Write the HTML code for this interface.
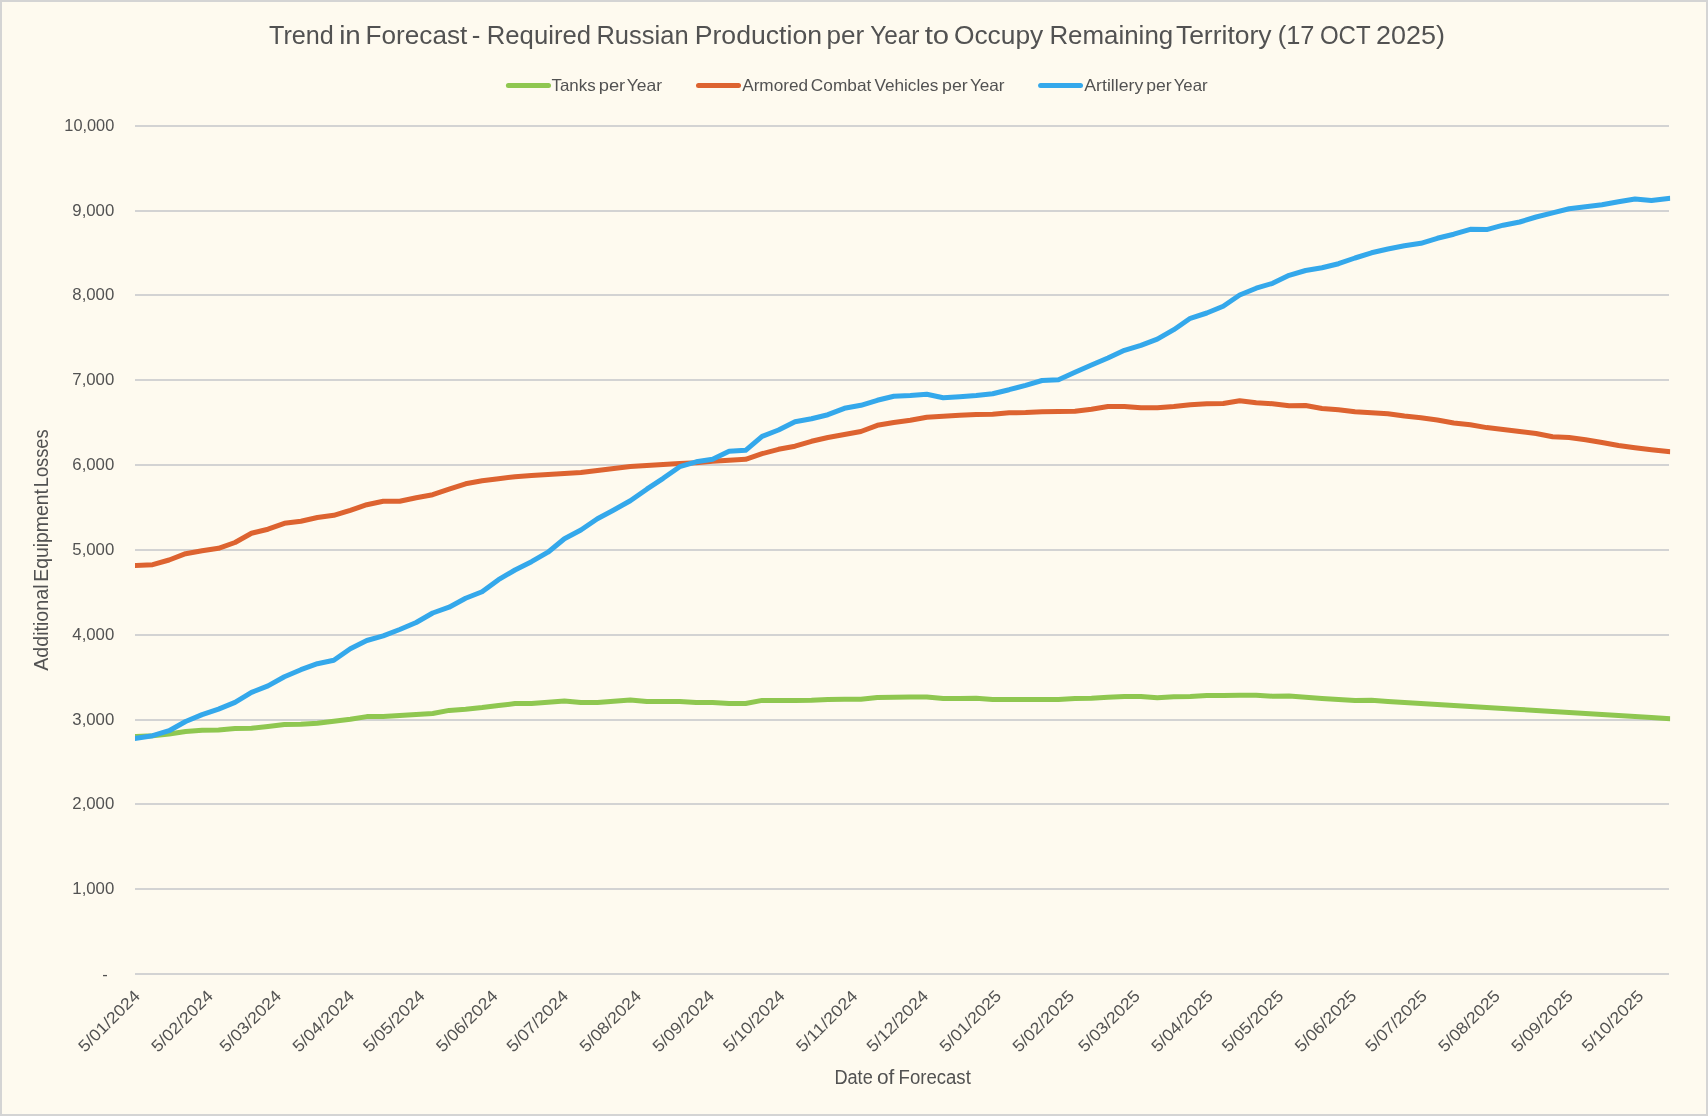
<!DOCTYPE html>
<html lang="en"><head><meta charset="utf-8"><title>Trend in Forecast</title>
<style>
html,body{margin:0;padding:0;background:#FEFAEF;}
body{width:1708px;height:1116px;overflow:hidden;font-family:"Liberation Sans",sans-serif;}
svg{display:block;position:absolute;left:0;top:0;will-change:transform;}
text{font-family:"Liberation Sans",sans-serif;fill:#525252;}
.t{font-size:26px;}
.l{font-size:16.5px;}
.a{font-size:19.5px;}
.s{fill:none;stroke-width:5;stroke-linejoin:round;stroke-linecap:square;}
</style></head><body>
<svg width="1708" height="1116" viewBox="0 0 1708 1116">
<rect x="0" y="0" width="1708" height="1116" fill="#D4D4D4"/>
<rect x="2" y="2" width="1704" height="1112" fill="#FEFAEF"/>
<g stroke="#D3D3D3" stroke-width="2">
<line x1="135.0" x2="1669.0" y1="974" y2="974"/>
<line x1="135.0" x2="1669.0" y1="889" y2="889"/>
<line x1="135.0" x2="1669.0" y1="804" y2="804"/>
<line x1="135.0" x2="1669.0" y1="720" y2="720"/>
<line x1="135.0" x2="1669.0" y1="635" y2="635"/>
<line x1="135.0" x2="1669.0" y1="550" y2="550"/>
<line x1="135.0" x2="1669.0" y1="465" y2="465"/>
<line x1="135.0" x2="1669.0" y1="380" y2="380"/>
<line x1="135.0" x2="1669.0" y1="295" y2="295"/>
<line x1="135.0" x2="1669.0" y1="211" y2="211"/>
<line x1="135.0" x2="1669.0" y1="126" y2="126"/>
</g>
<text class="t" x="269.0" y="44.1" textLength="64.9" lengthAdjust="spacingAndGlyphs">Trend</text>
<text class="t" x="339.2" y="44.1" textLength="21.6" lengthAdjust="spacingAndGlyphs">in</text>
<text class="t" x="365.6" y="44.1" textLength="101.7" lengthAdjust="spacingAndGlyphs">Forecast</text>
<text class="t" x="471.7" y="44.1" textLength="8.6" lengthAdjust="spacingAndGlyphs">-</text>
<text class="t" x="486.8" y="44.1" textLength="104.2" lengthAdjust="spacingAndGlyphs">Required</text>
<text class="t" x="596.4" y="44.1" textLength="92.2" lengthAdjust="spacingAndGlyphs">Russian</text>
<text class="t" x="694.7" y="44.1" textLength="127.4" lengthAdjust="spacingAndGlyphs">Production</text>
<text class="t" x="826.5" y="44.1" textLength="37.6" lengthAdjust="spacingAndGlyphs">per</text>
<text class="t" x="870.2" y="44.1" textLength="49.1" lengthAdjust="spacingAndGlyphs">Year</text>
<text class="t" x="924.7" y="44.1" textLength="24.4" lengthAdjust="spacingAndGlyphs">to</text>
<text class="t" x="953.9" y="44.1" textLength="89.4" lengthAdjust="spacingAndGlyphs">Occupy</text>
<text class="t" x="1049.4" y="44.1" textLength="123.8" lengthAdjust="spacingAndGlyphs">Remaining</text>
<text class="t" x="1175.9" y="44.1" textLength="95.7" lengthAdjust="spacingAndGlyphs">Territory</text>
<text class="t" x="1277.7" y="44.1" textLength="36.7" lengthAdjust="spacingAndGlyphs">(17</text>
<text class="t" x="1319.9" y="44.1" textLength="50.7" lengthAdjust="spacingAndGlyphs">OCT</text>
<text class="t" x="1376.1" y="44.1" textLength="69.0" lengthAdjust="spacingAndGlyphs">2025)</text>
<g class="s" stroke-linecap="round" style="stroke-linecap:round">
<line x1="508.4" x2="548.5" y1="85.5" y2="85.5" stroke="#8FC750"/>
<line x1="698.5" x2="738.5" y1="85.5" y2="85.5" stroke="#DD6330"/>
<line x1="1040.6" x2="1080.5" y1="85.5" y2="85.5" stroke="#34A8EB"/>
</g>
<text class="l" x="551.5" y="90.8" textLength="44.2" lengthAdjust="spacingAndGlyphs">Tanks</text>
<text class="l" x="598.7" y="90.8" textLength="26.5" lengthAdjust="spacingAndGlyphs">per</text>
<text class="l" x="626.7" y="90.8" textLength="35.4" lengthAdjust="spacingAndGlyphs">Year</text>
<text class="l" x="742.2" y="90.8" textLength="65.9" lengthAdjust="spacingAndGlyphs">Armored</text>
<text class="l" x="810.8" y="90.8" textLength="60.5" lengthAdjust="spacingAndGlyphs">Combat</text>
<text class="l" x="874.4" y="90.8" textLength="64.0" lengthAdjust="spacingAndGlyphs">Vehicles</text>
<text class="l" x="942.0" y="90.8" textLength="25.7" lengthAdjust="spacingAndGlyphs">per</text>
<text class="l" x="969.9" y="90.8" textLength="34.7" lengthAdjust="spacingAndGlyphs">Year</text>
<text class="l" x="1084.3" y="90.8" textLength="59.0" lengthAdjust="spacingAndGlyphs">Artillery</text>
<text class="l" x="1146.3" y="90.8" textLength="25.4" lengthAdjust="spacingAndGlyphs">per</text>
<text class="l" x="1173.7" y="90.8" textLength="33.9" lengthAdjust="spacingAndGlyphs">Year</text>
<text class="l" x="114.3" y="893.9" text-anchor="end" textLength="42.0" lengthAdjust="spacingAndGlyphs">1,000</text>
<text class="l" x="114.3" y="808.9" text-anchor="end" textLength="42.0" lengthAdjust="spacingAndGlyphs">2,000</text>
<text class="l" x="114.3" y="724.9" text-anchor="end" textLength="42.0" lengthAdjust="spacingAndGlyphs">3,000</text>
<text class="l" x="114.3" y="639.9" text-anchor="end" textLength="42.0" lengthAdjust="spacingAndGlyphs">4,000</text>
<text class="l" x="114.3" y="554.9" text-anchor="end" textLength="42.0" lengthAdjust="spacingAndGlyphs">5,000</text>
<text class="l" x="114.3" y="469.9" text-anchor="end" textLength="42.0" lengthAdjust="spacingAndGlyphs">6,000</text>
<text class="l" x="114.3" y="384.9" text-anchor="end" textLength="42.0" lengthAdjust="spacingAndGlyphs">7,000</text>
<text class="l" x="114.3" y="299.9" text-anchor="end" textLength="42.0" lengthAdjust="spacingAndGlyphs">8,000</text>
<text class="l" x="114.3" y="215.9" text-anchor="end" textLength="42.0" lengthAdjust="spacingAndGlyphs">9,000</text>
<text class="l" x="114.3" y="130.9" text-anchor="end" textLength="50.0" lengthAdjust="spacingAndGlyphs">10,000</text>
<text class="l" x="102.2" y="979.6">-</text>
<text class="l" transform="translate(136.9,992.9) rotate(-45)" x="0" y="5.9" text-anchor="end" textLength="79.2" lengthAdjust="spacingAndGlyphs">5/01/2024</text>
<text class="l" transform="translate(209.8,992.9) rotate(-45)" x="0" y="5.9" text-anchor="end" textLength="79.2" lengthAdjust="spacingAndGlyphs">5/02/2024</text>
<text class="l" transform="translate(278.1,992.9) rotate(-45)" x="0" y="5.9" text-anchor="end" textLength="79.2" lengthAdjust="spacingAndGlyphs">5/03/2024</text>
<text class="l" transform="translate(351.0,992.9) rotate(-45)" x="0" y="5.9" text-anchor="end" textLength="79.2" lengthAdjust="spacingAndGlyphs">5/04/2024</text>
<text class="l" transform="translate(421.6,992.9) rotate(-45)" x="0" y="5.9" text-anchor="end" textLength="79.2" lengthAdjust="spacingAndGlyphs">5/05/2024</text>
<text class="l" transform="translate(494.5,992.9) rotate(-45)" x="0" y="5.9" text-anchor="end" textLength="79.2" lengthAdjust="spacingAndGlyphs">5/06/2024</text>
<text class="l" transform="translate(565.1,992.9) rotate(-45)" x="0" y="5.9" text-anchor="end" textLength="79.2" lengthAdjust="spacingAndGlyphs">5/07/2024</text>
<text class="l" transform="translate(638.1,992.9) rotate(-45)" x="0" y="5.9" text-anchor="end" textLength="79.2" lengthAdjust="spacingAndGlyphs">5/08/2024</text>
<text class="l" transform="translate(711.0,992.9) rotate(-45)" x="0" y="5.9" text-anchor="end" textLength="79.2" lengthAdjust="spacingAndGlyphs">5/09/2024</text>
<text class="l" transform="translate(781.6,992.9) rotate(-45)" x="0" y="5.9" text-anchor="end" textLength="79.2" lengthAdjust="spacingAndGlyphs">5/10/2024</text>
<text class="l" transform="translate(854.5,992.9) rotate(-45)" x="0" y="5.9" text-anchor="end" textLength="79.2" lengthAdjust="spacingAndGlyphs">5/11/2024</text>
<text class="l" transform="translate(925.1,992.9) rotate(-45)" x="0" y="5.9" text-anchor="end" textLength="79.2" lengthAdjust="spacingAndGlyphs">5/12/2024</text>
<text class="l" transform="translate(998.0,992.9) rotate(-45)" x="0" y="5.9" text-anchor="end" textLength="79.2" lengthAdjust="spacingAndGlyphs">5/01/2025</text>
<text class="l" transform="translate(1071.0,992.9) rotate(-45)" x="0" y="5.9" text-anchor="end" textLength="79.2" lengthAdjust="spacingAndGlyphs">5/02/2025</text>
<text class="l" transform="translate(1136.9,992.9) rotate(-45)" x="0" y="5.9" text-anchor="end" textLength="79.2" lengthAdjust="spacingAndGlyphs">5/03/2025</text>
<text class="l" transform="translate(1209.8,992.9) rotate(-45)" x="0" y="5.9" text-anchor="end" textLength="79.2" lengthAdjust="spacingAndGlyphs">5/04/2025</text>
<text class="l" transform="translate(1280.4,992.9) rotate(-45)" x="0" y="5.9" text-anchor="end" textLength="79.2" lengthAdjust="spacingAndGlyphs">5/05/2025</text>
<text class="l" transform="translate(1353.3,992.9) rotate(-45)" x="0" y="5.9" text-anchor="end" textLength="79.2" lengthAdjust="spacingAndGlyphs">5/06/2025</text>
<text class="l" transform="translate(1423.9,992.9) rotate(-45)" x="0" y="5.9" text-anchor="end" textLength="79.2" lengthAdjust="spacingAndGlyphs">5/07/2025</text>
<text class="l" transform="translate(1496.9,992.9) rotate(-45)" x="0" y="5.9" text-anchor="end" textLength="79.2" lengthAdjust="spacingAndGlyphs">5/08/2025</text>
<text class="l" transform="translate(1569.8,992.9) rotate(-45)" x="0" y="5.9" text-anchor="end" textLength="79.2" lengthAdjust="spacingAndGlyphs">5/09/2025</text>
<text class="l" transform="translate(1640.4,992.9) rotate(-45)" x="0" y="5.9" text-anchor="end" textLength="79.2" lengthAdjust="spacingAndGlyphs">5/10/2025</text>
<text class="a" x="834.4" y="1083.8" textLength="38.4" lengthAdjust="spacingAndGlyphs">Date</text>
<text class="a" x="876.9" y="1083.8" textLength="17.4" lengthAdjust="spacingAndGlyphs">of</text>
<text class="a" x="898.6" y="1083.8" textLength="72.2" lengthAdjust="spacingAndGlyphs">Forecast</text>
<g transform="translate(47.5,0) rotate(-90)">
<text class="a" x="-670.8" y="0" textLength="86.3" lengthAdjust="spacingAndGlyphs">Additional</text>
<text class="a" x="-581.8" y="0" textLength="92.8" lengthAdjust="spacingAndGlyphs">Equipment</text>
<text class="a" x="-487.2" y="0" textLength="57.8" lengthAdjust="spacingAndGlyphs">Losses</text>
</g>
<clipPath id="pc"><rect x="135" y="100" width="1535.2" height="900"/></clipPath>
<g clip-path="url(#pc)">
<path class="s" stroke="#8FC750" d="M136.2,736.5 L152.7,735.7 L169.1,734.0 L185.6,731.5 L202.1,730.2 L218.5,729.9 L235.0,728.5 L251.5,728.2 L268.0,726.5 L284.4,724.5 L300.9,724.2 L317.4,723.2 L333.8,721.2 L350.3,719.2 L366.8,716.6 L383.2,716.6 L399.7,715.6 L416.2,714.5 L432.7,713.5 L449.1,710.4 L465.6,709.2 L482.1,707.6 L498.5,705.6 L515.0,703.6 L531.5,703.4 L548.0,702.2 L564.4,700.9 L580.9,702.4 L597.4,702.4 L613.8,701.2 L630.3,699.9 L646.8,701.6 L663.2,701.4 L679.7,701.4 L696.2,702.5 L712.6,702.5 L729.1,703.5 L745.6,703.5 L762.1,700.4 L778.5,700.4 L795.0,700.4 L811.5,700.2 L827.9,699.4 L844.4,699.2 L860.9,699.2 L877.3,697.4 L893.8,697.2 L910.3,697.1 L926.8,697.1 L943.2,698.4 L959.7,698.4 L976.2,698.2 L992.6,699.6 L1009.1,699.4 L1025.6,699.4 L1042.0,699.4 L1058.5,699.4 L1075.0,698.6 L1091.5,698.2 L1107.9,697.2 L1124.4,696.4 L1140.9,696.4 L1157.3,697.7 L1173.8,696.7 L1190.3,696.4 L1206.8,695.6 L1223.2,695.4 L1239.7,695.2 L1256.2,695.2 L1272.6,696.2 L1289.1,696.1 L1305.6,697.2 L1322.0,698.4 L1338.5,699.4 L1355.0,700.4 L1371.5,700.2 L1387.9,701.4 L1404.4,702.5 L1420.9,703.5 L1437.3,704.5 L1453.8,705.5 L1470.3,706.5 L1486.7,707.4 L1503.2,708.4 L1519.7,709.4 L1536.1,710.4 L1552.6,711.5 L1569.1,712.5 L1585.6,713.5 L1602.0,714.5 L1618.5,715.5 L1635.0,716.5 L1651.4,717.5 L1667.9,718.5"/>
<path class="s" stroke="#DD6330" d="M136.2,565.5 L152.7,564.7 L169.1,560.0 L185.6,553.7 L202.1,550.7 L218.5,548.3 L235.0,542.5 L251.5,533.3 L268.0,529.2 L284.4,523.3 L300.9,521.2 L317.4,517.5 L333.8,515.3 L350.3,510.3 L366.8,504.7 L383.2,501.3 L399.7,501.3 L416.2,497.7 L432.7,494.7 L449.1,489.2 L465.6,483.8 L482.1,480.8 L498.5,478.7 L515.0,476.7 L531.5,475.5 L548.0,474.5 L564.4,473.5 L580.9,472.5 L597.4,470.5 L613.8,468.5 L630.3,466.5 L646.8,465.5 L663.2,464.5 L679.7,463.5 L696.2,462.8 L712.6,461.3 L729.1,460.3 L745.6,459.3 L762.1,453.7 L778.5,449.3 L795.0,446.2 L811.5,441.3 L827.9,437.5 L844.4,434.5 L860.9,431.5 L877.3,425.3 L893.8,422.5 L910.3,420.3 L926.8,417.2 L943.2,416.3 L959.7,415.3 L976.2,414.4 L992.6,414.2 L1009.1,412.8 L1025.6,412.5 L1042.0,411.7 L1058.5,411.5 L1075.0,411.3 L1091.5,409.3 L1107.9,406.5 L1124.4,406.5 L1140.9,407.7 L1157.3,407.7 L1173.8,406.5 L1190.3,404.7 L1206.8,403.7 L1223.2,403.5 L1239.7,400.7 L1256.2,402.7 L1272.6,403.7 L1289.1,405.8 L1305.6,405.5 L1322.0,408.5 L1338.5,409.7 L1355.0,411.7 L1371.5,412.7 L1387.9,413.7 L1404.4,416.0 L1420.9,417.8 L1437.3,420.0 L1453.8,423.0 L1470.3,424.8 L1486.7,427.6 L1503.2,429.6 L1519.7,431.5 L1536.1,433.5 L1552.6,436.7 L1569.1,437.5 L1585.6,439.7 L1602.0,442.5 L1618.5,445.5 L1635.0,447.7 L1651.4,449.7 L1667.9,451.5"/>
<path class="s" stroke="#34A8EB" d="M136.2,738.2 L152.7,735.7 L169.1,730.7 L185.6,721.5 L202.1,714.6 L218.5,709.1 L235.0,702.4 L251.5,692.4 L268.0,685.9 L284.4,676.7 L300.9,669.7 L317.4,663.7 L333.8,660.3 L350.3,648.7 L366.8,640.5 L383.2,635.8 L399.7,629.5 L416.2,622.5 L432.7,613.0 L449.1,607.2 L465.6,598.3 L482.1,591.7 L498.5,579.7 L515.0,570.0 L531.5,561.7 L548.0,552.2 L564.4,538.7 L580.9,530.0 L597.4,518.7 L613.8,510.0 L630.3,500.8 L646.8,489.2 L663.2,478.3 L679.7,466.7 L696.2,461.8 L712.6,459.3 L729.1,451.3 L745.6,450.3 L762.1,436.3 L778.5,430.0 L795.0,421.7 L811.5,418.7 L827.9,414.7 L844.4,408.3 L860.9,405.3 L877.3,400.3 L893.8,396.3 L910.3,395.5 L926.8,394.3 L943.2,397.7 L959.7,396.7 L976.2,395.4 L992.6,393.7 L1009.1,389.7 L1025.6,385.3 L1042.0,380.5 L1058.5,379.7 L1075.0,372.2 L1091.5,365.0 L1107.9,358.0 L1124.4,350.3 L1140.9,345.3 L1157.3,339.2 L1173.8,329.7 L1190.3,318.3 L1206.8,313.0 L1223.2,306.3 L1239.7,295.0 L1256.2,288.2 L1272.6,283.3 L1289.1,275.3 L1305.6,270.5 L1322.0,267.8 L1338.5,263.7 L1355.0,258.0 L1371.5,252.8 L1387.9,249.0 L1404.4,245.8 L1420.9,243.3 L1437.3,238.3 L1453.8,234.2 L1470.3,229.3 L1486.7,229.6 L1503.2,225.2 L1519.7,222.0 L1536.1,217.0 L1552.6,212.8 L1569.1,208.8 L1585.6,206.8 L1602.0,204.7 L1618.5,201.7 L1635.0,199.0 L1651.4,200.5 L1667.9,198.5"/>
</g>
</svg></body></html>
